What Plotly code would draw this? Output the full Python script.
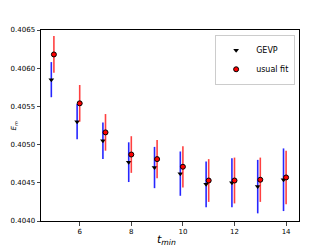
import plotly.graph_objects as go

t = [5, 6, 7, 8, 9, 10, 11, 12, 13, 14]
gevp = [0.40585, 0.40530, 0.40505, 0.40477, 0.40470, 0.40462, 0.40448, 0.40450, 0.40445, 0.40454]
gevp_err = [0.00023, 0.00023, 0.00024, 0.00026, 0.00027, 0.00029, 0.00030, 0.00032, 0.00035, 0.00041]
usual = [0.40618, 0.40554, 0.40516, 0.40487, 0.40481, 0.40471, 0.40453, 0.40453, 0.40454, 0.40457]
usual_err = [0.00024, 0.00024, 0.00024, 0.00024, 0.00025, 0.00027, 0.00028, 0.00030, 0.00029, 0.00035]
y_ticks = [0.4040, 0.4045, 0.4050, 0.4055, 0.4060, 0.4065]
x_ticks = [6, 8, 10, 12, 14]

fig = go.Figure()
fig.add_trace(go.Scatter(
    x=[v - 0.1 for v in t], y=gevp, mode="markers", name="GEVP",
    marker=dict(symbol="triangle-down", size=5, color="black"),
    error_y=dict(type="data", array=gevp_err, visible=True, width=0,
                 thickness=1.6, color="rgba(0,0,255,0.85)"),
))
fig.add_trace(go.Scatter(
    x=t, y=usual, mode="markers", name="usual fit",
    marker=dict(symbol="circle", size=5, color="red", line=dict(color="black", width=1)),
    error_y=dict(type="data", array=usual_err, visible=True, width=0,
                 thickness=1.6, color="rgba(255,0,0,0.75)"),
))

# the page body adds an 8px offset, so the figure is sized to fit the window
fig.update_layout(
    width=324, height=241,
    margin=dict(l=33, r=33, t=22, b=28),
    paper_bgcolor="white", plot_bgcolor="white",
    font=dict(family="DejaVu Sans", size=7, color="black"),
    showlegend=True,
    legend=dict(x=0.985, y=0.975, xanchor="right", yanchor="top",
                bgcolor="white", bordercolor="#cccccc", borderwidth=1,
                font=dict(size=8), itemwidth=30, tracegroupgap=0),
    xaxis=dict(range=[4.5, 14.5], tickvals=x_ticks, ticks="outside", ticklen=3.5,
               showline=True, mirror=True, linecolor="black", linewidth=1,
               showgrid=False, zeroline=False, automargin=False),
    yaxis=dict(range=[0.4040, 0.4065], tickvals=y_ticks, tickformat=".4f",
               ticks="outside", ticklen=3.5,
               showline=True, mirror=True, linecolor="black", linewidth=1,
               showgrid=False, zeroline=False, automargin=False),
    annotations=[
        dict(text="<i>t</i><sub><i>min</i></sub>", xref="paper", yref="paper",
             x=0.488, y=-0.099, xanchor="center", yanchor="middle", showarrow=False,
             font=dict(size=11)),
        dict(text="<i>E</i><sub><i>m</i></sub>", xref="paper", yref="paper",
             x=-0.105, y=0.5, xanchor="center", yanchor="middle", showarrow=False,
             textangle=-90, font=dict(size=7)),
    ],
)

fig.write_html("out.html")
